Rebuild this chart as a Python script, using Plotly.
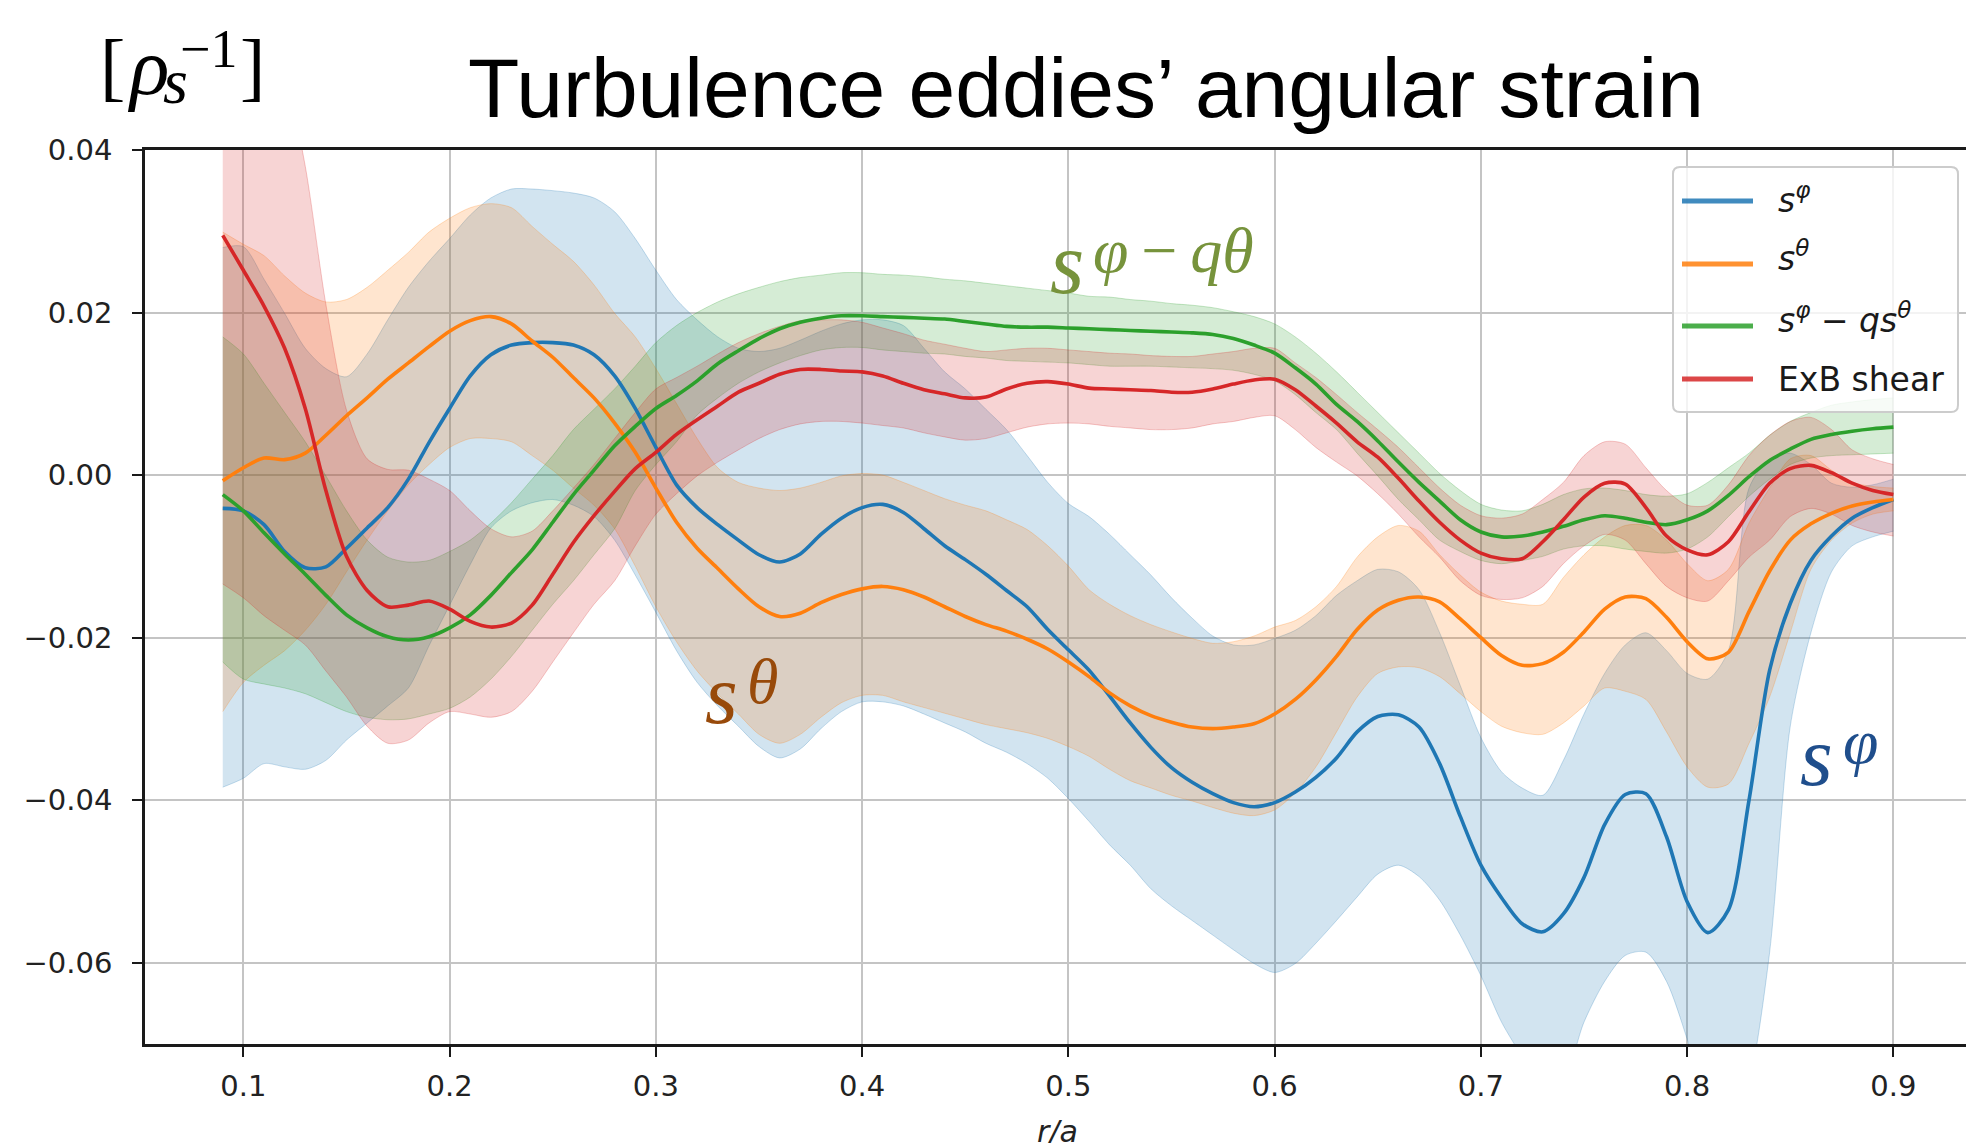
import plotly.graph_objects as go

# ---------------- data ----------------
x = [0.09, 0.10, 0.11, 0.12, 0.13, 0.14, 0.15, 0.16, 0.17, 0.18,
     0.19, 0.20, 0.21, 0.22, 0.23, 0.24, 0.25, 0.26, 0.27, 0.28,
     0.29, 0.30, 0.31, 0.32, 0.33, 0.34, 0.35, 0.36, 0.37, 0.38,
     0.39, 0.40, 0.41, 0.42, 0.43, 0.44, 0.45, 0.46, 0.47, 0.48,
     0.49, 0.50, 0.51, 0.52, 0.53, 0.54, 0.55, 0.56, 0.57, 0.58,
     0.59, 0.60, 0.61, 0.62, 0.63, 0.64, 0.65, 0.66, 0.67, 0.68,
     0.69, 0.70, 0.71, 0.72, 0.73, 0.74, 0.75, 0.76, 0.77, 0.78,
     0.79, 0.80, 0.81, 0.82, 0.83, 0.84, 0.85, 0.86, 0.87, 0.88,
     0.89, 0.90]

s_phi = [-0.0041, -0.0044, -0.0061, -0.0094, -0.0114, -0.0113, -0.0090, -0.0065, -0.0040, -0.0005,
         0.0040, 0.0082, 0.0122, 0.0148, 0.0160, 0.0163, 0.0163, 0.0160, 0.0148, 0.0122,
         0.0082, 0.0034, -0.0012, -0.0040, -0.0061, -0.0080, -0.0098, -0.0107, -0.0097, -0.0073,
         -0.0053, -0.0040, -0.0036, -0.0046, -0.0066, -0.0087, -0.0104, -0.0122, -0.0142, -0.0162,
         -0.0190, -0.0215, -0.0240, -0.0272, -0.0305, -0.0335, -0.0360, -0.0378, -0.0392, -0.0403,
         -0.0408, -0.0403, -0.0390, -0.0372, -0.0348, -0.0316, -0.0297, -0.0295, -0.0310, -0.0355,
         -0.0420, -0.0480, -0.0520, -0.0552, -0.0562, -0.0540, -0.0495, -0.0430, -0.0393, -0.0392,
         -0.0445, -0.0525, -0.0563, -0.0535, -0.0400, -0.0240, -0.0158, -0.0105, -0.0075, -0.0053,
         -0.0040, -0.0030]
s_phi_hi = [0.0280, 0.0281, 0.0241, 0.0199, 0.0156, 0.0131, 0.0121, 0.0149, 0.0191, 0.0231,
            0.0263, 0.0291, 0.0320, 0.0341, 0.0352, 0.0352, 0.0350, 0.0347, 0.0341, 0.0324,
            0.0291, 0.0252, 0.0216, 0.0191, 0.0170, 0.0156, 0.0152, 0.0156, 0.0166, 0.0177,
            0.0186, 0.0191, 0.0191, 0.0184, 0.0156, 0.0127, 0.0106, 0.0081, 0.0056, 0.0024,
            -0.0009, -0.0035, -0.0051, -0.0073, -0.0098, -0.0123, -0.0151, -0.0176, -0.0198, -0.0209,
            -0.0209, -0.0201, -0.0191, -0.0173, -0.0148, -0.0130, -0.0116, -0.0119, -0.0141, -0.0194,
            -0.0259, -0.0323, -0.0365, -0.0385, -0.0394, -0.0351, -0.0294, -0.0244, -0.0209, -0.0194,
            -0.0216, -0.0244, -0.0251, -0.0216, -0.0016, 0.0020, 0.0027, 0.0013, -0.0010, -0.0015,
            -0.0012, -0.0005]
s_phi_lo = [-0.0384, -0.0373, -0.0355, -0.0359, -0.0362, -0.0351, -0.0326, -0.0305, -0.0284, -0.0262,
            -0.0210, -0.0160, -0.0110, -0.0065, -0.0044, -0.0034, -0.0030, -0.0037, -0.0051, -0.0080,
            -0.0123, -0.0169, -0.0216, -0.0255, -0.0284, -0.0309, -0.0334, -0.0348, -0.0337, -0.0312,
            -0.0291, -0.0279, -0.0279, -0.0284, -0.0294, -0.0305, -0.0316, -0.0330, -0.0341, -0.0355,
            -0.0373, -0.0398, -0.0426, -0.0455, -0.0480, -0.0509, -0.0530, -0.0548, -0.0566, -0.0584,
            -0.0601, -0.0612, -0.0601, -0.0576, -0.0548, -0.0519, -0.0491, -0.0480, -0.0494, -0.0523,
            -0.0566, -0.0616, -0.0673, -0.0716, -0.0760, -0.0745, -0.0673, -0.0623, -0.0591, -0.0587,
            -0.0623, -0.0694, -0.0780, -0.0820, -0.0750, -0.0587, -0.0309, -0.0194, -0.0119, -0.0087,
            -0.0076, -0.0069]

s_theta = [-0.0007, 0.0009, 0.0021, 0.0019, 0.0027, 0.0049, 0.0073, 0.0095, 0.0118, 0.0138,
           0.0158, 0.0177, 0.0190, 0.0195, 0.0186, 0.0165, 0.0145, 0.0120, 0.0095, 0.0064,
           0.0028, -0.0016, -0.0058, -0.0090, -0.0115, -0.0140, -0.0162, -0.0174, -0.0170, -0.0157,
           -0.0147, -0.0140, -0.0137, -0.0141, -0.0150, -0.0162, -0.0174, -0.0184, -0.0192, -0.0202,
           -0.0214, -0.0230, -0.0248, -0.0268, -0.0284, -0.0296, -0.0304, -0.0310, -0.0312, -0.0310,
           -0.0306, -0.0294, -0.0276, -0.0252, -0.0223, -0.0190, -0.0166, -0.0154, -0.0150, -0.0156,
           -0.0177, -0.0200, -0.0222, -0.0234, -0.0232, -0.0218, -0.0193, -0.0165, -0.0150, -0.0152,
           -0.0175, -0.0205, -0.0226, -0.0218, -0.0168, -0.0118, -0.0080, -0.0060, -0.0047, -0.0038,
           -0.0033, -0.0030]
s_theta_hi = [0.0299, 0.0284, 0.0270, 0.0245, 0.0224, 0.0213, 0.0216, 0.0231, 0.0252, 0.0274,
              0.0299, 0.0316, 0.0329, 0.0334, 0.0329, 0.0306, 0.0284, 0.0263, 0.0234, 0.0199,
              0.0170, 0.0131, 0.0088, 0.0045, 0.0009, -0.0009, -0.0016, -0.0019, -0.0016, -0.0009,
              -0.0001, 0.0002, 0.0000, -0.0009, -0.0019, -0.0029, -0.0037, -0.0044, -0.0055, -0.0067,
              -0.0087, -0.0112, -0.0141, -0.0159, -0.0173, -0.0184, -0.0193, -0.0201, -0.0207, -0.0205,
              -0.0198, -0.0187, -0.0179, -0.0162, -0.0137, -0.0101, -0.0076, -0.0062, -0.0069, -0.0098,
              -0.0123, -0.0144, -0.0155, -0.0159, -0.0159, -0.0126, -0.0098, -0.0076, -0.0062, -0.0062,
              -0.0080, -0.0109, -0.0130, -0.0116, -0.0059, -0.0016, 0.0020, 0.0024, 0.0006, -0.0009,
              -0.0014, -0.0016]
s_theta_lo = [-0.0291, -0.0255, -0.0234, -0.0216, -0.0191, -0.0159, -0.0119, -0.0080, -0.0044, -0.0012,
              0.0013, 0.0034, 0.0045, 0.0045, 0.0041, 0.0024, 0.0006, -0.0016, -0.0037, -0.0066,
              -0.0112, -0.0162, -0.0205, -0.0241, -0.0269, -0.0294, -0.0319, -0.0330, -0.0319, -0.0298,
              -0.0280, -0.0271, -0.0271, -0.0279, -0.0286, -0.0293, -0.0300, -0.0307, -0.0312, -0.0317,
              -0.0324, -0.0334, -0.0346, -0.0362, -0.0376, -0.0385, -0.0394, -0.0401, -0.0409, -0.0416,
              -0.0419, -0.0412, -0.0391, -0.0359, -0.0316, -0.0273, -0.0244, -0.0236, -0.0237, -0.0248,
              -0.0269, -0.0291, -0.0309, -0.0317, -0.0319, -0.0305, -0.0284, -0.0262, -0.0266, -0.0276,
              -0.0316, -0.0359, -0.0384, -0.0380, -0.0330, -0.0273, -0.0194, -0.0116, -0.0080, -0.0059,
              -0.0048, -0.0044]

s_diff = [-0.0024, -0.0044, -0.0071, -0.0097, -0.0122, -0.0148, -0.0172, -0.0188, -0.0199, -0.0203,
          -0.0199, -0.0188, -0.0172, -0.0148, -0.0120, -0.0092, -0.0058, -0.0024, 0.0006, 0.0036,
          0.0060, 0.0082, 0.0098, 0.0116, 0.0137, 0.0153, 0.0168, 0.0180, 0.0188, 0.0193,
          0.0196, 0.0196, 0.0195, 0.0194, 0.0193, 0.0192, 0.0189, 0.0186, 0.0183, 0.0182,
          0.0182, 0.0181, 0.0180, 0.0179, 0.0178, 0.0177, 0.0176, 0.0175, 0.0173, 0.0168,
          0.0160, 0.0150, 0.0132, 0.0112, 0.0087, 0.0066, 0.0042, 0.0016, -0.0009, -0.0032,
          -0.0055, -0.0070, -0.0076, -0.0075, -0.0070, -0.0063, -0.0055, -0.0050, -0.0053, -0.0058,
          -0.0061, -0.0055, -0.0044, -0.0025, -0.0002, 0.0018, 0.0032, 0.0044, 0.0050, 0.0054,
          0.0057, 0.0059]
s_diff_hi = [0.0170, 0.0149, 0.0113, 0.0077, 0.0041, -0.0001, -0.0044, -0.0080, -0.0101, -0.0107,
             -0.0105, -0.0094, -0.0080, -0.0059, -0.0034, -0.0005, 0.0024, 0.0056, 0.0081, 0.0106,
             0.0134, 0.0163, 0.0184, 0.0200, 0.0213, 0.0223, 0.0231, 0.0238, 0.0243, 0.0246,
             0.0249, 0.0249, 0.0247, 0.0246, 0.0244, 0.0241, 0.0239, 0.0236, 0.0233, 0.0230,
             0.0227, 0.0224, 0.0220, 0.0219, 0.0216, 0.0214, 0.0211, 0.0209, 0.0206, 0.0201,
             0.0195, 0.0186, 0.0170, 0.0150, 0.0127, 0.0102, 0.0077, 0.0052, 0.0027, 0.0002,
             -0.0019, -0.0036, -0.0043, -0.0044, -0.0036, -0.0024, -0.0017, -0.0016, -0.0019, -0.0024,
             -0.0026, -0.0023, -0.0009, 0.0009, 0.0027, 0.0049, 0.0066, 0.0077, 0.0086, 0.0090,
             0.0093, 0.0095]
s_diff_lo = [-0.0230, -0.0251, -0.0257, -0.0262, -0.0269, -0.0280, -0.0291, -0.0298, -0.0301, -0.0300,
             -0.0294, -0.0287, -0.0273, -0.0251, -0.0223, -0.0191, -0.0159, -0.0130, -0.0098, -0.0066,
             -0.0019, 0.0013, 0.0041, 0.0074, 0.0095, 0.0113, 0.0127, 0.0138, 0.0147, 0.0154,
             0.0157, 0.0157, 0.0154, 0.0152, 0.0150, 0.0149, 0.0146, 0.0144, 0.0141, 0.0140,
             0.0139, 0.0138, 0.0136, 0.0134, 0.0134, 0.0134, 0.0133, 0.0132, 0.0131, 0.0129,
             0.0124, 0.0116, 0.0099, 0.0077, 0.0056, 0.0027, -0.0001, -0.0030, -0.0055, -0.0080,
             -0.0094, -0.0105, -0.0109, -0.0105, -0.0100, -0.0091, -0.0087, -0.0087, -0.0091, -0.0094,
             -0.0096, -0.0091, -0.0076, -0.0051, -0.0026, -0.0005, 0.0013, 0.0021, 0.0024, 0.0025,
             0.0026, 0.0027]

exb = [0.0295, 0.0252, 0.0208, 0.0156, 0.0082, -0.0019, -0.0100, -0.0142, -0.0162, -0.0160,
       -0.0155, -0.0165, -0.0180, -0.0187, -0.0182, -0.0160, -0.0122, -0.0083, -0.0050, -0.0020,
       0.0008, 0.0028, 0.0050, 0.0068, 0.0085, 0.0102, 0.0113, 0.0124, 0.0130, 0.0130,
       0.0128, 0.0127, 0.0122, 0.0113, 0.0105, 0.0100, 0.0095, 0.0096, 0.0106, 0.0113,
       0.0115, 0.0112, 0.0107, 0.0106, 0.0105, 0.0104, 0.0102, 0.0102, 0.0106, 0.0112,
       0.0117, 0.0118, 0.0105, 0.0085, 0.0064, 0.0041, 0.0022, -0.0004, -0.0032, -0.0058,
       -0.0080, -0.0096, -0.0103, -0.0103, -0.0082, -0.0055, -0.0027, -0.0010, -0.0011, -0.0040,
       -0.0075, -0.0092, -0.0098, -0.0082, -0.0045, -0.0010, 0.0008, 0.0012, 0.0003, -0.0010,
       -0.0019, -0.0024]
exb_hi = [0.0724, 0.0655, 0.0589, 0.0500, 0.0380, 0.0210, 0.0080, 0.0020, 0.0007, 0.0006,
          -0.0005, -0.0019, -0.0044, -0.0066, -0.0076, -0.0069, -0.0044, -0.0016, 0.0013, 0.0045,
          0.0077, 0.0106, 0.0120, 0.0134, 0.0149, 0.0163, 0.0174, 0.0183, 0.0190, 0.0191,
          0.0191, 0.0188, 0.0181, 0.0174, 0.0166, 0.0161, 0.0156, 0.0152, 0.0154, 0.0156,
          0.0156, 0.0154, 0.0152, 0.0150, 0.0149, 0.0147, 0.0146, 0.0146, 0.0149, 0.0152,
          0.0156, 0.0156, 0.0138, 0.0120, 0.0099, 0.0077, 0.0056, 0.0034, 0.0009, -0.0016,
          -0.0037, -0.0050, -0.0053, -0.0048, -0.0030, -0.0009, 0.0024, 0.0041, 0.0038, 0.0009,
          -0.0019, -0.0037, -0.0037, -0.0012, 0.0024, 0.0049, 0.0066, 0.0071, 0.0056, 0.0031,
          0.0020, 0.0013]
exb_lo = [-0.0134, -0.0151, -0.0173, -0.0191, -0.0209, -0.0241, -0.0273, -0.0309, -0.0330, -0.0326,
          -0.0305, -0.0291, -0.0294, -0.0298, -0.0291, -0.0266, -0.0230, -0.0194, -0.0159, -0.0130,
          -0.0087, -0.0048, -0.0023, -0.0001, 0.0016, 0.0031, 0.0045, 0.0056, 0.0063, 0.0066,
          0.0066, 0.0064, 0.0061, 0.0058, 0.0052, 0.0047, 0.0043, 0.0045, 0.0052, 0.0059,
          0.0063, 0.0064, 0.0063, 0.0060, 0.0058, 0.0056, 0.0056, 0.0058, 0.0063, 0.0066,
          0.0071, 0.0073, 0.0056, 0.0034, 0.0016, -0.0001, -0.0023, -0.0048, -0.0076, -0.0101,
          -0.0130, -0.0148, -0.0153, -0.0151, -0.0137, -0.0109, -0.0087, -0.0073, -0.0080, -0.0109,
          -0.0137, -0.0151, -0.0155, -0.0130, -0.0101, -0.0080, -0.0051, -0.0041, -0.0048, -0.0062,
          -0.0070, -0.0075]

legend_labels = ["<i>s</i><sup><i>φ</i></sup>",
                 "<i>s</i><sup><i>θ</i></sup>",
                 "<i>s</i><sup><i>φ</i></sup> − <i>qs</i><sup><i>θ</i></sup>",
                 "ExB shear"]
x_ticks = [0.1, 0.2, 0.3, 0.4, 0.5, 0.6, 0.7, 0.8, 0.9]
y_ticks = [-0.06, -0.04, -0.02, 0.00, 0.02, 0.04]

# ---------------- geometry / style ----------------
W, H = 1966, 1143
ML, MT, MB = 145, 150, 99
PW, PH = W - ML, H - MT - MB
X_RANGE = [0.0523, 0.9352]
Y_RANGE = [-0.07, 0.04]


def px(xp):
    return (xp - ML) / PW


def py(yp):
    return (H - MB - yp) / PH


colors = ["#1f77b4", "#ff7f0e", "#2ca02c", "#d62728"]
fills = ["rgba(31,119,180,0.2)", "rgba(255,127,14,0.2)",
         "rgba(44,160,44,0.2)", "rgba(214,39,40,0.2)"]
edges = ["rgba(31,119,180,0.25)", "rgba(255,127,14,0.25)",
         "rgba(44,160,44,0.25)", "rgba(214,39,40,0.25)"]

series = [(s_phi, s_phi_lo, s_phi_hi), (s_theta, s_theta_lo, s_theta_hi),
          (s_diff, s_diff_lo, s_diff_hi), (exb, exb_lo, exb_hi)]

fig = go.Figure()
SM = 0.8
for i, (mid, lo, hi) in enumerate(series):
    fig.add_trace(go.Scatter(x=x, y=lo, mode="lines", showlegend=False, hoverinfo="skip",
                             line=dict(color=edges[i], width=1, shape="spline", smoothing=SM)))
    fig.add_trace(go.Scatter(x=x, y=hi, mode="lines", fill="tonexty", fillcolor=fills[i],
                             showlegend=False, hoverinfo="skip",
                             line=dict(color=edges[i], width=1, shape="spline", smoothing=SM)))
for i, (mid, lo, hi) in enumerate(series):
    fig.add_trace(go.Scatter(x=x, y=mid, mode="lines", showlegend=False,
                             line=dict(color=colors[i], width=3.6, shape="spline", smoothing=SM)))

tickfont = dict(family="DejaVu Sans", size=29, color="#222222")
axis_common = dict(showgrid=True, gridcolor="#c4c4c4", gridwidth=2, zeroline=False,
                   showline=True, linecolor="#1a1a1a", linewidth=2.5,
                   ticks="outside", ticklen=10, tickwidth=1.6, tickcolor="#1a1a1a",
                   tickfont=tickfont)

fig.update_layout(
    width=W, height=H,
    margin=dict(l=ML, r=0, t=MT, b=MB, pad=0),
    paper_bgcolor="white", plot_bgcolor="white",
    font=dict(family="DejaVu Sans"),
    showlegend=False,
    xaxis=dict(range=X_RANGE, tickvals=x_ticks, tickformat=".1f", mirror=True,
               ticklabelstandoff=4, **axis_common),
    yaxis=dict(range=Y_RANGE, tickvals=y_ticks, tickformat=".2f", mirror=False,
               ticklabelstandoff=14, **axis_common),
)

annotations = []


def add_text(text, left_px, bottom_px, size, family, color="black", anchor="left", yanchor="bottom"):
    annotations.append(dict(text=text, x=px(left_px), y=py(bottom_px), xref="paper", yref="paper",
                            xanchor=anchor, yanchor=yanchor, showarrow=False, borderpad=0,
                            borderwidth=0, font=dict(family=family, size=size, color=color)))


# title
add_text("Turbulence eddies’ angular strain", 1086, 135, 84, "Liberation Sans", anchor="center")
# unit label  [rho_s^-1]
SERIF = "Liberation Serif"
add_text("[", 100, 108, 76, SERIF)
add_text("<i>ρ</i>", 127, 112, 82, SERIF)
add_text("<i>s</i>", 163, 117, 64, SERIF)
add_text("−1", 180, 79, 54, SERIF)
add_text("]", 240, 108, 76, SERIF)
# x-axis label
add_text("<i>r/a</i>", 1057, 1114, 30, "DejaVu Sans", color="#222222", anchor="center", yanchor="top")

# coloured curve labels
GREEN, BROWN, BLUE = "#77933C", "#984A0A", "#1F4E8C"
add_text("<i>s</i>", 1050, 312, 88, SERIF, GREEN)
add_text("<i>φ</i>\u2009−\u2009<i>qθ</i>", 1093, 286, 64, SERIF, GREEN)
add_text("<i>s</i>", 705, 741, 84, SERIF, BROWN)
add_text("<i>θ</i>", 747, 717, 64, SERIF, BROWN)
add_text("<i>s</i>", 1800, 803, 84, SERIF, BLUE)
add_text("<i>φ</i>", 1843, 777, 64, SERIF, BLUE)

# legend (drawn manually)
shapes = []
bx0, by0, bx1, by1, r = 1673, 167, 1958, 412, 7


def pt(xp, yp):
    return f"{px(xp):.6f},{py(yp):.6f}"


path = (f"M {pt(bx0 + r, by0)} L {pt(bx1 - r, by0)} Q {pt(bx1, by0)} {pt(bx1, by0 + r)} "
        f"L {pt(bx1, by1 - r)} Q {pt(bx1, by1)} {pt(bx1 - r, by1)} "
        f"L {pt(bx0 + r, by1)} Q {pt(bx0, by1)} {pt(bx0, by1 - r)} "
        f"L {pt(bx0, by0 + r)} Q {pt(bx0, by0)} {pt(bx0 + r, by0)} Z")
shapes.append(dict(type="path", path=path, xref="paper", yref="paper", layer="above",
                   fillcolor="rgba(255,255,255,0.8)", line=dict(color="#cccccc", width=2)))
row_y = [201, 264, 326, 379]
row_base = [212, 270, 332, 391]
for i in range(4):
    shapes.append(dict(type="line", xref="paper", yref="paper", layer="above",
                       x0=px(1682), x1=px(1753), y0=py(row_y[i]), y1=py(row_y[i]),
                       line=dict(color=colors[i], width=5), opacity=0.85))
    add_text(legend_labels[i], 1778, row_base[i] + 8, 33, "DejaVu Sans", color="#1a1a1a")

fig.update_layout(annotations=annotations, shapes=shapes)

fig.write_html("out.html", config={"displayModeBar": False},
               post_script="document.body.style.margin='0';document.body.style.overflow='hidden';")
